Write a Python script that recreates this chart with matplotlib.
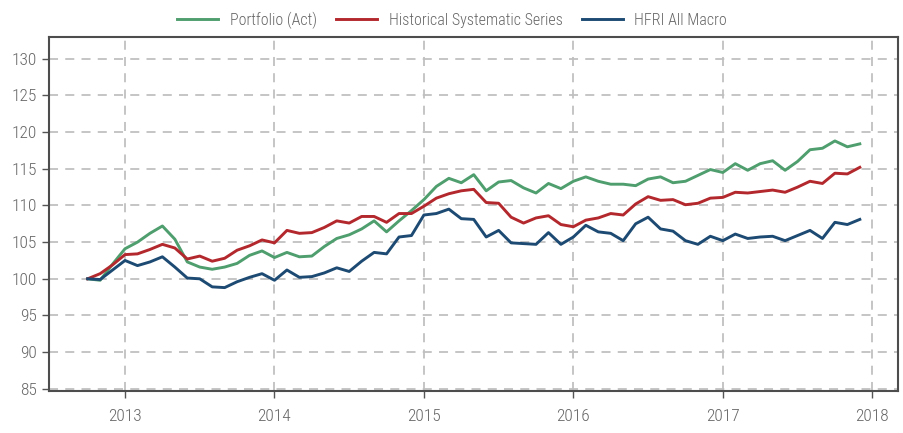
import numpy as np
import matplotlib
matplotlib.use("Agg")
import matplotlib.pyplot as plt

# monthly index values, Oct 2012 .. Dec 2017
portfolio = [100.0, 99.8, 102.0, 104.1, 105.0, 106.2, 107.2, 105.4, 102.3, 101.6, 101.3,
             101.6, 102.1, 103.2, 103.8, 102.9, 103.6, 103.0, 103.1, 104.4, 105.5,
             106.0, 106.8, 107.9, 106.4, 107.9, 109.3, 110.8, 112.6, 113.7, 113.1, 114.2,
             112.0, 113.2, 113.4, 112.4, 111.7, 113.0, 112.3, 113.3, 113.9,
             113.3, 112.9, 112.9, 112.7, 113.6, 113.9, 113.1, 113.3, 114.1, 114.9, 114.5,
             115.7, 114.8, 115.7, 116.1, 114.8, 116.0, 117.6, 117.8, 118.8, 118.0, 118.4]
systematic = [100.0, 100.7, 101.9, 103.3, 103.4, 104.0, 104.7, 104.2, 102.7, 103.1, 102.4,
              102.8, 103.9, 104.5, 105.3, 104.9, 106.6, 106.2, 106.3, 107.0, 107.9,
              107.6, 108.5, 108.5, 107.7, 108.9, 108.9, 109.9, 111.0, 111.6, 112.0, 112.2,
              110.4, 110.3, 108.4, 107.6, 108.3, 108.6, 107.4, 107.1, 108.0,
              108.3, 108.9, 108.7, 110.2, 111.2, 110.7, 110.8, 110.1, 110.3, 111.0, 111.1,
              111.8, 111.7, 111.9, 112.1, 111.8, 112.5, 113.3, 113.0, 114.4, 114.3, 115.2]
hfri_macro = [100.0, 99.9, 101.2, 102.5, 101.8, 102.3, 103.0, 101.6, 100.1, 100.0, 98.9,
              98.8, 99.6, 100.2, 100.7, 99.8, 101.2, 100.2, 100.3, 100.8, 101.5,
              101.0, 102.4, 103.6, 103.4, 105.7, 105.9, 108.7, 108.9, 109.5, 108.2, 108.1,
              105.7, 106.6, 104.9, 104.8, 104.7, 106.3, 104.7, 105.7, 107.3,
              106.4, 106.2, 105.2, 107.5, 108.4, 106.8, 106.5, 105.2, 104.7, 105.8, 105.2,
              106.1, 105.5, 105.7, 105.8, 105.2, 105.9, 106.6, 105.5, 107.7, 107.4, 108.1]
labels = ["Portfolio (Act)", "Historical Systematic Series", "HFRI All Macro"]
colors = ["#4f9e6e", "#b3282d", "#1d4a72"]
years = [2013, 2014, 2015, 2016, 2017, 2018]
yticks = [85, 90, 95, 100, 105, 110, 115, 120, 125, 130]

# condensed face if one is around, plain sans otherwise
plt.rcParams['font.family'] = ['Roboto Condensed', 'Fira Sans Condensed',
                               'IBM Plex Sans Condensed', 'Archivo Narrow',
                               'PT Sans Narrow', 'Open Sans', 'DejaVu Sans']
plt.rcParams['font.weight'] = 300

x = 2012.75 + np.arange(len(portfolio)) / 12.0

fig = plt.figure(figsize=(9.04, 4.33), dpi=100)
ax = fig.add_axes([0.054, 0.097, 0.939, 0.818])

for ser, lab, c in zip([portfolio, systematic, hfri_macro], labels, colors):
    ax.plot(x, ser, color=c, lw=2.1, label=lab)

ax.set_xlim(2012.49, 2018.17)
ax.set_ylim(84.7, 133)
ax.set_xticks(years)
ax.set_yticks(yticks)
ax.grid(True, color='#c0c0c0', linestyle=(0, (5, 4)), lw=1.3)
ax.set_axisbelow(True)
for s in ax.spines.values():
    s.set_color('#4d4d4d')
    s.set_linewidth(1.5)
ax.tick_params(axis='both', colors='#555555', labelcolor='#666666', labelsize=12.5,
               length=5, width=1)
ax.tick_params(axis='x', pad=8)

fig.legend(loc='lower center', bbox_to_anchor=(0.5, 0.915), ncol=3, frameon=False,
           fontsize=11.5, handlelength=2.6, columnspacing=1.2, handletextpad=0.7,
           borderpad=0, labelcolor='#666666')

fig.savefig("out.png", dpi=100)
